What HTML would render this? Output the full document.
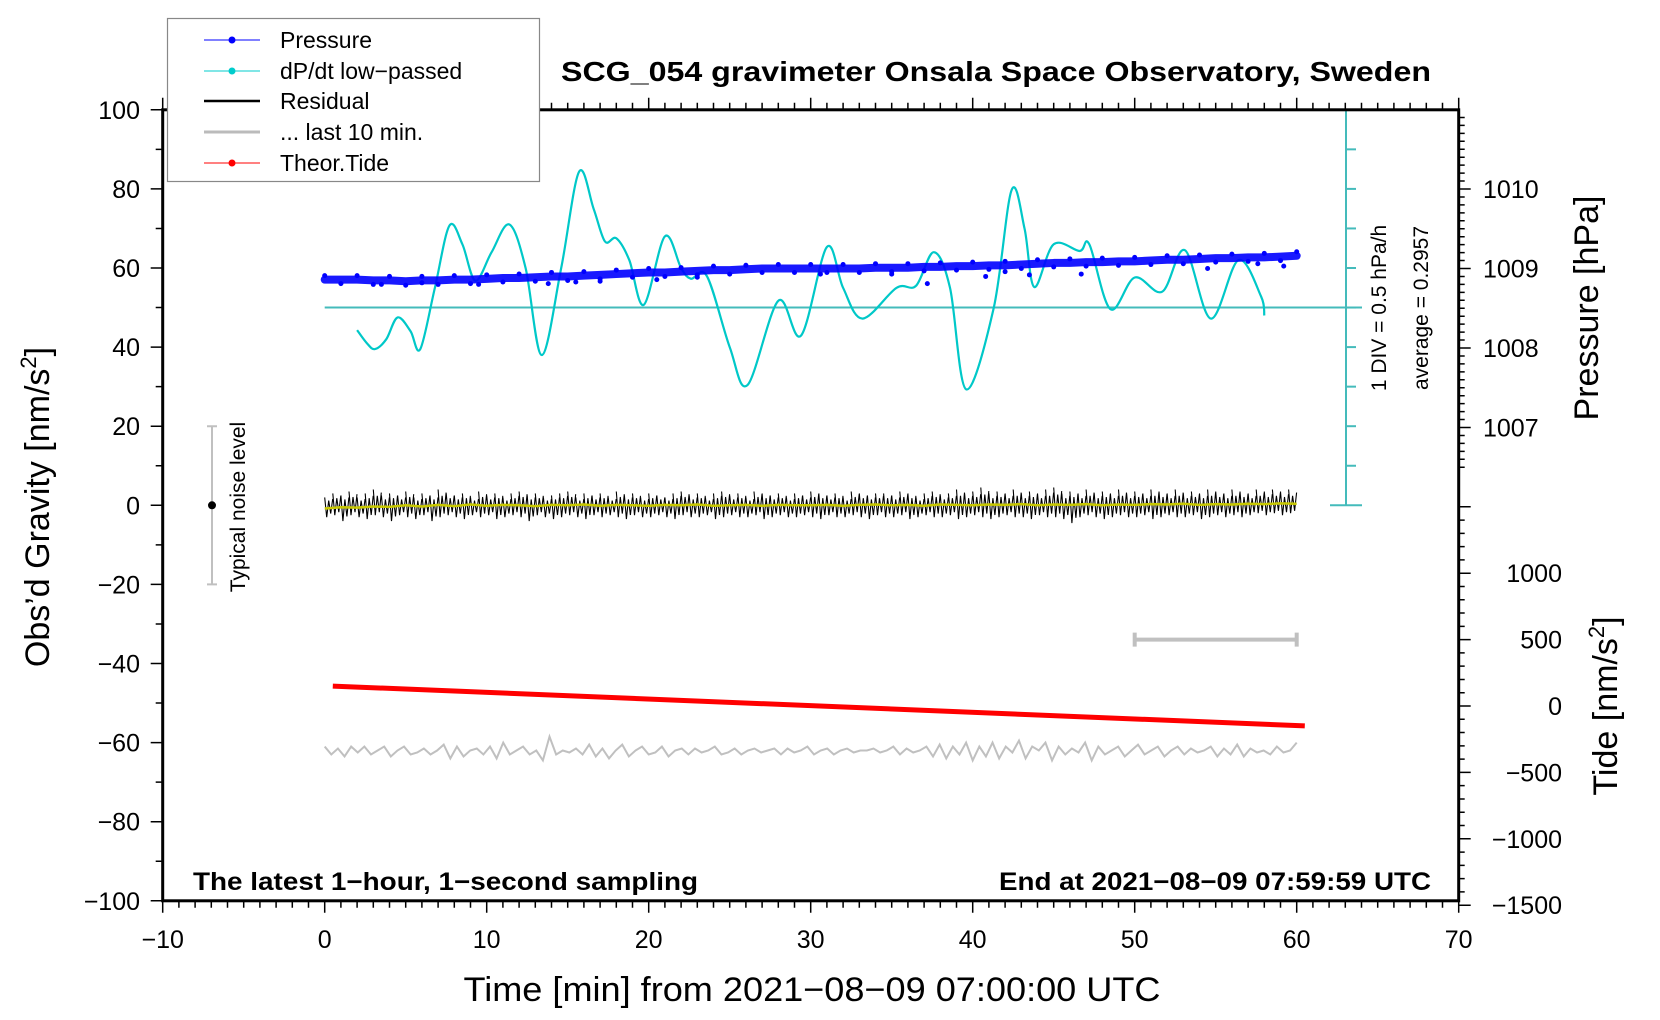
<!DOCTYPE html>
<html><head><meta charset="utf-8">
<style>
html,body{margin:0;padding:0;background:#fff;}
svg{display:block;font-family:"Liberation Sans",sans-serif;}
</style></head>
<body>
<svg id="chart" width="1660" height="1020" viewBox="0 0 1660 1020" xmlns="http://www.w3.org/2000/svg">
<rect width="1660" height="1020" fill="#fff"/>
<g id="marks"></g>
<g id="axes"></g>
<text x="996" y="81" text-anchor="middle" font-weight="bold" font-size="28" textLength="870" lengthAdjust="spacingAndGlyphs">SCG_054 gravimeter Onsala Space Observatory, Sweden</text>
<text x="193" y="890" font-weight="bold" font-size="25" textLength="505" lengthAdjust="spacingAndGlyphs">The latest 1−hour, 1−second sampling</text>
<text x="1431" y="890" text-anchor="end" font-weight="bold" font-size="25" textLength="432" lengthAdjust="spacingAndGlyphs">End at 2021−08−09 07:59:59 UTC</text>
<text x="812" y="1001" text-anchor="middle" font-size="34" textLength="697" lengthAdjust="spacingAndGlyphs">Time [min] from 2021−08−09 07:00:00 UTC</text>
<text transform="translate(49,507) rotate(-90)" text-anchor="middle" font-size="34">Obs’d Gravity [nm/s<tspan font-size="22" dy="-13">2</tspan><tspan dy="13">]</tspan></text>
<text transform="translate(1598,308) rotate(-90)" text-anchor="middle" font-size="34">Pressure [hPa]</text>
<text transform="translate(1617,706) rotate(-90)" text-anchor="middle" font-size="34">Tide [nm/s<tspan font-size="22" dy="-13">2</tspan><tspan dy="13">]</tspan></text>
<text transform="translate(1386,308) rotate(-90)" text-anchor="middle" font-size="21">1 DIV = 0.5 hPa/h</text>
<text transform="translate(1428,308) rotate(-90)" text-anchor="middle" font-size="21">average = 0.2957</text>
<text transform="translate(245,507) rotate(-90)" text-anchor="middle" font-size="21">Typical noise level</text>
<g>
<rect x="167.5" y="18.5" width="372" height="163" fill="#fff" stroke="#888" stroke-width="1.2"/>
<g><line x1="204" y1="40" x2="260" y2="40" stroke="#00f" stroke-width="1"/><circle cx="232" cy="40" r="3.5" fill="#00f"/><text x="280" y="48" font-size="23">Pressure</text></g>
<g><line x1="204" y1="71" x2="260" y2="71" stroke="#00cccc" stroke-width="1"/><circle cx="232" cy="71" r="3.5" fill="#00cccc"/><text x="280" y="79" font-size="23">dP/dt low−passed</text></g>
<g><line x1="204" y1="101" x2="260" y2="101" stroke="#000" stroke-width="2.5"/><text x="280" y="109" font-size="23">Residual</text></g>
<g><line x1="204" y1="132" x2="260" y2="132" stroke="#bbb" stroke-width="3"/><text x="280" y="140" font-size="23">... last 10 min.</text></g>
<g><line x1="204" y1="163" x2="260" y2="163" stroke="#f00" stroke-width="1"/><circle cx="232" cy="163" r="3.5" fill="#f00"/><text x="280" y="171" font-size="23">Theor.Tide</text></g>
</g>
</svg>
<script>
// ---- data ----
const xTicks = [-10,0,10,20,30,40,50,60,70];
const gTicks = [100,80,60,40,20,0,-20,-40,-60,-80,-100];
const pTicks = [1010,1009,1008,1007];
const tTicks = [1000,500,0,-500,-1000,-1500];
const pressMin = [0,1,2,3,4,5,6,7,8,9,10,11,12,13,14,15,16,17,18,19,20,21,22,23,24,25,26,27,28,29,30,31,32,33,34,35,36,37,38,39,40,41,42,43,44,45,46,47,48,49,50,51,52,53,54,55,56,57,58,59,60];
const pressVal = [1008.86,1008.86,1008.86,1008.85,1008.85,1008.84,1008.85,1008.85,1008.86,1008.86,1008.87,1008.88,1008.88,1008.89,1008.90,1008.90,1008.91,1008.92,1008.93,1008.94,1008.95,1008.95,1008.96,1008.97,1008.98,1008.98,1008.99,1009.00,1009.00,1009.00,1009.00,1009.00,1009.00,1009.00,1009.01,1009.01,1009.01,1009.02,1009.02,1009.03,1009.03,1009.04,1009.04,1009.05,1009.06,1009.07,1009.07,1009.08,1009.08,1009.09,1009.09,1009.10,1009.11,1009.11,1009.12,1009.13,1009.13,1009.14,1009.14,1009.15,1009.16];
const pressOutMin = [3.5,6,9.5,13.8,15.5,17,20.5,23,30.6,35,37.2,40.8,42,43.5,46.7,54.5,57.6,59.2];
const pressOutVal = [1008.80,1008.82,1008.80,1008.81,1008.83,1008.84,1008.86,1008.89,1008.93,1008.93,1008.81,1008.90,1008.96,1008.92,1008.93,1009.00,1009.06,1009.03];
const dpMin = [2.0,2.6,3.1,3.8,4.5,5.3,5.9,6.8,7.7,8.5,9.3,10.3,11.4,12.4,13.4,14.6,15.7,16.6,17.3,18.0,18.8,19.7,21.0,22.0,22.6,23.6,25.0,26.1,28.0,29.4,31.0,32.0,33.2,35.3,36.5,37.6,38.6,39.6,41.3,42.4,43.2,43.8,45.0,46.6,47.2,48.5,50.0,51.7,53.1,54.7,56.4,57.8,58.0];
const dpVal = [44.3,41,39.5,42,47.5,44,39.5,55,70.7,66,56.8,64,71,60,38,60,84.3,75,66.7,67.5,62,50.7,68,60,57.3,57.9,40,30.4,51.7,42.9,65.3,55,47.2,55,55.5,64,55,29.3,50,79.7,70,55.2,66,64.3,66,49.6,57.6,54,64.5,47.2,62,52.8,48];
const resMax = [2,3,2.5,3.5,2,3,4,2.5,3,2.5,3.5,2,3,2.5,4,3,2.5,3,2,3.5,2.5,3,2,3,3.5,2.5,3,2,2.5,3,3.5,2,3,2.5,3,2,3.5,2.5,3,2,3,2.5,2,3,3.5,2.5,3,2,3,3.5,2.5,3,2,3.5,3,2.5,3,2,3,2.5,3.5,3,2.5,3,2,3.5,3,2.5,3,3,2.5,3.5,3,2,3,3.5,2.5,3,4,3,3.5,4.5,3,3.5,3,4,3,3.5,3,4,4.5,3,3.5,3,4,3,3.5,3,4,3,3.5,3,4,3.5,3,4,3,3.5,3,4,3.5,3,4,3.5,3,4,3.5,4,3.5,4];
const resMin = [-3,-2.5,-4,-2.5,-3,-3.5,-2.5,-3,-4,-2.5,-3,-3.5,-2.5,-4,-3,-2.5,-3,-3.5,-2.5,-3,-2.5,-3.5,-3,-2.5,-3,-4,-2.5,-3,-3.5,-3,-2.5,-3,-3.5,-2.5,-3,-2.5,-3,-3.5,-2.5,-3,-3,-2.5,-3,-3.5,-2.5,-3,-3,-2.5,-3.5,-3,-2.5,-3,-3,-2.5,-3.5,-3,-2.5,-3,-3,-2.5,-3,-3.5,-2.5,-3,-3,-2.5,-3,-3.5,-2.5,-3,-3,-2.5,-3.5,-3,-2.5,-3,-3,-2.5,-3.5,-3,-2.5,-3,-3.5,-3,-2.5,-3,-3,-3.5,-2.5,-3,-3,-3.5,-4.5,-3,-2.5,-3,-3.5,-3,-2.5,-3,-3,-2.5,-3.5,-3,-2.5,-3,-3,-2.5,-3.5,-3,-2.5,-3,-2.5,-3,-2.5,-2,-2.5,-2,-2.5,-2];
const smoothVal = [-0.8,-0.5,-0.6,-0.3,-0.4,0,-0.3,0.1,-0.2,0.2,-0.1,0.1,0,-0.2,0.1,0,0.2,-0.1,0.1,0,-0.1,0.1,0,0.2,-0.1,0,0.1,-0.1,0.1,0,0,0.1,-0.1,0.1,0.2,0,0.1,-0.1,0.2,0.1,0,0.2,0.1,0.3,0,0.2,0.1,0.3,0,0.2,0.1,0.3,0.2,0.4,0.1,0.3,0.2,0.4,0.3,0.5,0.4];
const last10 = [-61,-63,-61.5,-63.5,-61,-62.5,-61,-63,-62,-61,-63.5,-62,-61,-63,-62.5,-61.5,-63,-62,-60.5,-64,-61,-63.5,-62,-61.5,-63,-61,-64,-60,-63,-62,-61,-63,-62,-64.5,-58.5,-63,-62,-62.5,-61.5,-63,-60.5,-63.5,-61.5,-64,-62,-60.5,-63.5,-62,-61,-63,-62.5,-61,-63.5,-62,-61.5,-63,-61.5,-62.5,-62,-61,-63,-62.5,-61.5,-63,-62,-61.5,-62.5,-62,-61.5,-63,-61.5,-62.5,-62,-61,-63,-62,-61.5,-63,-62,-61.5,-62.5,-62,-62,-61.5,-62.5,-62,-61,-63,-61.5,-62.5,-62,-61,-63.5,-60.5,-64,-61,-63,-60,-64.5,-61,-63.5,-60,-64,-61,-62.5,-59.5,-64,-61,-62,-60,-64.5,-61,-63,-61.5,-62.5,-60,-64.5,-61,-63,-62,-61,-63.5,-62,-60.5,-63,-62,-61,-63.5,-62,-61,-63,-61.5,-62.5,-62,-61,-63.5,-61.5,-63,-60.5,-63.5,-61.5,-62.5,-62,-63,-61,-62.5,-62,-60];
const tideMin = [0.5,60.5];
const tideVal = [150,-150];
const errMin = [50,60];
const errTide = [500,500];

// ---- scales ----
const X = t => 324.7 + 16.2*t;
const G = v => 505.3 - 3.955*v;
const P = p => 189 - 79.5*(p-1010);
const T = v => 706 - 0.1328*v;
const NS = 'http://www.w3.org/2000/svg';
const marks = document.getElementById('marks');
const axes = document.getElementById('axes');
function mk(tag, attrs, parent){
  const e = document.createElementNS(NS, tag);
  for (const k in attrs) e.setAttribute(k, attrs[k]);
  parent.appendChild(e);
  return e;
}
function smoothPath(pts){
  let d = 'M'+pts[0][0]+','+pts[0][1];
  for (let i=0;i<pts.length-1;i++){
    const p0=pts[Math.max(i-1,0)], p1=pts[i], p2=pts[i+1], p3=pts[Math.min(i+2,pts.length-1)];
    const c1=[p1[0]+(p2[0]-p0[0])/6, p1[1]+(p2[1]-p0[1])/6];
    const c2=[p2[0]-(p3[0]-p1[0])/6, p2[1]-(p3[1]-p1[1])/6];
    d+=' C'+c1[0].toFixed(1)+','+c1[1].toFixed(1)+' '+c2[0].toFixed(1)+','+c2[1].toFixed(1)+' '+p2[0].toFixed(1)+','+p2[1].toFixed(1);
  }
  return d;
}

// ---- cyan scale bar ----
let e;
e = mk('line',{x1:1346,y1:G(100),x2:1346,y2:G(0),stroke:'#44bbbb','stroke-width':2},marks);


for (let v=0; v<=100; v+=10){
  const w = (v===0||v===100) ? [1330,1362] : [1346,1356];
  e = mk('line',{x1:w[0],y1:G(v),x2:w[1],y2:G(v),stroke:'#44bbbb','stroke-width':2},marks);
  
  
}
e = mk('line',{x1:X(0),y1:G(50),x2:1362,y2:G(50),stroke:'#44bbbb','stroke-width':2},marks);



// ---- cyan dp/dt ----
e = mk('path',{d:smoothPath(dpMin.map((t,i)=>[X(t),G(dpVal[i])])),fill:'none',stroke:'#00c8c8','stroke-width':2.2},marks);



// ---- pressure ----
e = mk('polyline',{points:pressMin.map((t,i)=>X(t)+','+P(pressVal[i])).join(' '),fill:'none',stroke:'#0000ff','stroke-width':8,'stroke-linecap':'round','stroke-linejoin':'round','stroke-opacity':0.9},marks);


pressMin.forEach((t,i)=>{
  const c = mk('circle',{cx:X(t),cy:P(pressVal[i])+(i%2?4:-4),r:2.5,fill:'#0000ff'},marks);
  
  
});
pressOutMin.forEach((t,i)=>{
  const c = mk('circle',{cx:X(t),cy:P(pressOutVal[i]),r:2.5,fill:'#0000ff'},marks);
  
  
});

// ---- residual ----
let d='';
resMax.forEach((v,i)=>{
  const t=i*0.5, x=X(t);
  d+='M'+x.toFixed(1)+','+G(v).toFixed(1)+'L'+(x+2).toFixed(1)+','+G(resMin[i]).toFixed(1)+'L'+(x+4).toFixed(1)+','+G(v*0.6).toFixed(1)+'L'+(x+6).toFixed(1)+','+G(resMin[i]*0.7).toFixed(1)+'L'+(x+8).toFixed(1)+','+G(v*0.8).toFixed(1);
});
e = mk('path',{d:d,fill:'none',stroke:'#000','stroke-width':1.1},marks);


e = mk('polyline',{points:smoothVal.map((v,i)=>X(i)+','+G(v)).join(' '),fill:'none',stroke:'#c8c800','stroke-width':2.5},marks);



// ---- last 10 min ----
e = mk('polyline',{points:last10.map((v,i)=>X(i*60/(last10.length-1))+','+G(v)).join(' '),fill:'none',stroke:'#c0c0c0','stroke-width':2},marks);



// ---- tide ----
e = mk('line',{x1:X(tideMin[0]),y1:T(tideVal[0]),x2:X(tideMin[1]),y2:T(tideVal[1]),stroke:'#ff0000','stroke-width':5},marks);



// ---- gray bar at tide 500 ----
e = mk('path',{d:'M'+X(errMin[0])+','+T(errTide[0])+'H'+X(errMin[1])+'M'+X(errMin[0])+','+(T(errTide[0])-7)+'v14M'+X(errMin[1])+','+(T(errTide[1])-7)+'v14',stroke:'#c0c0c0','stroke-width':4,fill:'none'},marks);



// ---- typical noise level ----
e = mk('path',{d:'M212,'+G(20)+'V'+G(-20)+'M207,'+G(20)+'H217M207,'+G(-20)+'H217',stroke:'#c0c0c0','stroke-width':2,fill:'none'},marks);


e = mk('circle',{cx:212,cy:G(0),r:4,fill:'#000'},marks);



// ---- axes ----
const L=162.7, R=1458.7, TOP=G(100), BOT=G(-100);
e = mk('rect',{x:L,y:TOP,width:R-L,height:BOT-TOP,fill:'none',stroke:'#000','stroke-width':3},axes);


let td='';
for (let t=-10;t<=70;t++){
  const len = t%10===0 ? 12 : 7;
  td+='M'+X(t)+','+BOT+'v'+len+'M'+X(t)+','+TOP+'v-'+len;
}
for (let v=-100; v<=100; v+=10){
  const len = v%20===0 ? 12 : 7;
  td+='M'+L+','+G(v)+'h-'+len;
}
for (let p=1006.5; p<=1010.95; p+=0.1){
  const pr=Math.round(p*10)/10;
  const len = Math.abs(pr-Math.round(pr))<1e-6 ? 12 : 6;
  td+='M'+R+','+P(pr)+'h'+len;
}
for (let v=-1500; v<=1500; v+=100){
  const len = v%500===0 ? 12 : 6;
  td+='M'+R+','+T(v)+'h'+len;
}
e = mk('path',{d:td,stroke:'#000','stroke-width':1.5,fill:'none'},axes);


xTicks.forEach(t=>{
  const s = mk('text',{x:X(t),y:948,'text-anchor':'middle','font-size':25},axes);
  s.textContent = String(t).replace('-','−');
  
  
});
gTicks.forEach(v=>{
  const s = mk('text',{x:140,y:G(v)+9,'text-anchor':'end','font-size':25},axes);
  s.textContent = String(v).replace('-','−');
  
  
});
pTicks.forEach(v=>{
  const s = mk('text',{x:1483,y:P(v)+9,'font-size':25},axes);
  s.textContent = String(v);
  
  
});
tTicks.forEach(v=>{
  const s = mk('text',{x:1562,y:T(v)+9,'text-anchor':'end','font-size':25},axes);
  s.textContent = String(v).replace('-','−');
  
  
});
</script>
</body></html>
